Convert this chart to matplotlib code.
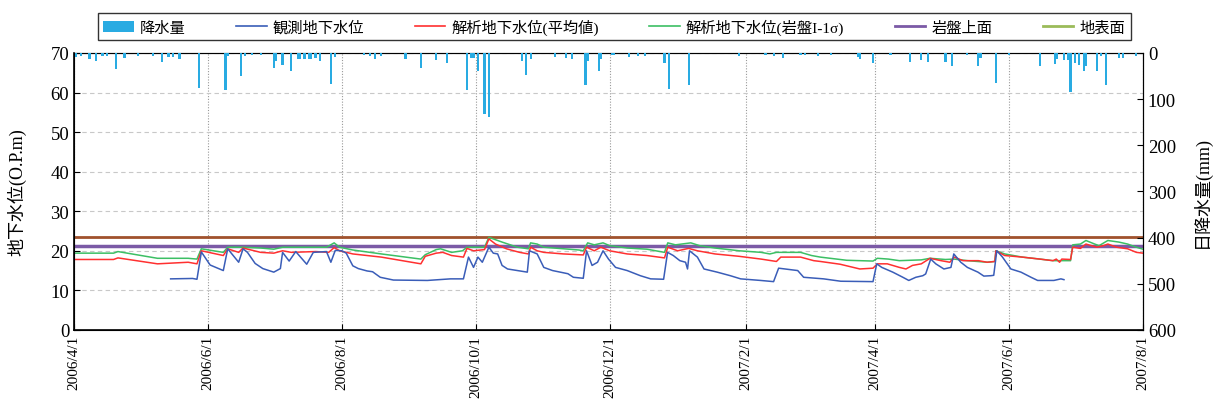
import datetime as dt
import numpy as np
import matplotlib
matplotlib.use('Agg')
import matplotlib.pyplot as plt
import matplotlib.dates as mdates
from matplotlib.lines import Line2D
from matplotlib.patches import Patch

plt.rcParams['font.family'] = ['Liberation Serif', 'Noto Sans CJK JP']

# ---------------- data (day offsets from 2006/4/1) ----------------
start_date = '2006/4/1'
tick_labels = ['2006/4/1', '2006/6/1', '2006/8/1', '2006/10/1', '2006/12/1',
               '2007/2/1', '2007/4/1', '2007/6/1', '2007/8/1']

rain_day = [1, 3, 7, 10, 13, 15, 19, 23, 29, 36,
            40, 43, 45, 48, 57, 69, 70, 76, 78, 81,
            85, 91, 92, 95, 99, 102, 103, 105, 107, 108,
            110, 112, 117, 119, 132, 135, 137, 140, 151, 158,
            165, 170, 179, 181, 182, 184, 187, 189, 204, 206,
            208, 219, 224, 227, 233, 234, 239, 240, 245, 246,
            253, 257, 260, 269, 271, 280, 303, 315, 319, 323,
            331, 333, 339, 345, 357, 358, 364, 372, 381, 386,
            389, 397, 400, 407, 412, 413, 420, 426, 440, 447,
            448, 451, 453, 454, 456, 458, 460, 461, 466, 468,
            470, 476, 478, 484]
rain_mm = [9, 6, 13, 18, 6, 6, 35, 11, 6, 6,
           20, 9, 9, 13, 76, 81, 7, 49, 6, 4,
           4, 32, 18, 27, 40, 13, 13, 14, 13, 14,
           10, 17, 68, 8, 4, 6, 13, 6, 14, 32,
           16, 22, 81, 11, 11, 40, 133, 138, 17, 47,
           14, 9, 11, 13, 70, 18, 40, 14, 4, 4,
           9, 6, 6, 22, 77, 69, 6, 4, 6, 11,
           4, 4, 6, 4, 9, 13, 22, 4, 20, 15,
           20, 20, 29, 4, 29, 11, 66, 4, 28, 23,
           13, 15, 15, 84, 22, 26, 38, 29, 40, 6,
           69, 11, 11, 7]

obs_day = [44, 54, 56, 58, 62, 68, 70, 75, 77, 79,
           82.5, 86, 91, 94, 95, 98, 101, 106, 109, 115,
           117, 119, 122, 124, 127, 129.5, 133.5, 136, 139.5, 145.5,
           161, 171.5, 177.4, 179.7, 182, 184, 186, 189, 191, 193,
           195, 197.5, 202, 206.5, 207.5, 211, 214, 218, 225, 227.5,
           232, 233.5, 236, 238.5, 241, 243.5, 246.7, 252, 258, 262.7,
           268.6, 270.4, 273, 276, 278.6, 279.5, 280.4, 284, 287, 293,
           299, 303.7, 312.8, 318.7, 321, 329.7, 332.4, 341.5, 349.3, 364,
           365.7, 368, 373, 377.6, 380.3, 383.5, 386.7, 388, 390.3, 392.6,
           396.3, 399.5, 400.8, 404, 407, 411.8, 414.5, 417.7, 419, 420.4,
           423, 426.8, 431.4, 436, 439, 446.4, 449.6, 451]
obs_level = [12.9, 13.0, 12.8, 19.7, 16.4, 15.0, 20.5, 17.1, 20.5, 19.6,
             16.8, 15.5, 14.6, 15.5, 19.6, 17.4, 19.8, 16.6, 19.6, 19.8,
             17.1, 20.1, 20.0, 19.4, 16.2, 15.5, 14.9, 14.7, 13.3, 12.6,
             12.5, 12.9, 12.9, 18.4, 15.8, 18.4, 17.1, 20.9, 19.4, 19.2,
             16.3, 15.4, 15.0, 14.6, 20.0, 19.2, 15.8, 15.0, 14.2, 13.3,
             13.05, 20.0, 16.3, 17.1, 20.0, 17.9, 15.8, 15.0, 13.7, 12.9,
             12.8, 19.6, 18.8, 17.5, 17.1, 15.4, 20.0, 18.4, 15.4, 14.6,
             13.7, 12.9, 12.5, 12.2, 15.6, 15.0, 13.3, 12.9, 12.3, 12.2,
             16.7, 15.8, 14.6, 13.3, 12.5, 13.3, 13.7, 14.15, 17.9, 16.7,
             15.4, 15.8, 19.2, 17.1, 15.8, 14.6, 13.6, 13.7, 13.8, 20.0,
             18.4, 15.4, 14.6, 13.3, 12.5, 12.5, 12.9, 12.7]

mean_day = [0, 18, 20, 38, 52, 56, 58, 68, 70, 75,
            77, 85, 91, 95, 99, 110, 116, 118.5, 121, 127,
            140, 158, 160, 165, 168, 172, 177.4, 179, 182, 187, 189,
            192, 197, 203, 207, 208, 211, 214, 223, 232, 233.5,
            237, 240, 244, 252, 261, 269, 270.5, 275, 280, 284,
            292, 303, 313, 320, 322, 331, 337, 340, 349, 358,
            364, 366, 370.5, 376, 379, 382, 386, 390, 395, 399,
            401, 405, 412, 416, 419.5, 420, 424, 432, 440, 446,
            447.5, 449, 450, 454, 455, 458.5, 461, 466, 469, 471,
            475, 480, 484, 487]
mean_level = [17.8, 17.8, 18.2, 16.7, 17.1, 16.7, 20.0, 18.8, 20.5, 19.6,
              20.7, 19.6, 19.4, 20.0, 19.6, 19.8, 19.6, 20.8, 20.0, 19.2,
              18.4, 16.7, 18.6, 19.4, 19.6, 18.8, 18.4, 20.6, 20.0, 20.3, 23.0,
              21.7, 20.5, 19.6, 19.2, 20.9, 20.0, 19.6, 19.2, 18.95, 20.9,
              20.0, 20.9, 20.0, 19.2, 18.8, 18.2, 20.9, 20.0, 20.6, 20.0,
              19.2, 18.6, 17.9, 17.3, 18.4, 18.4, 17.5, 17.3, 16.6, 15.4,
              15.6, 16.7, 16.7, 15.8, 15.4, 16.3, 16.7, 18.1, 17.5, 17.1,
              18.4, 17.5, 17.5, 17.1, 17.3, 20.0, 18.8, 18.4, 17.9, 17.5,
              17.9, 17.1, 17.9, 17.8, 20.9, 20.6, 21.7, 20.9, 21.3, 21.7,
              20.9, 20.5, 19.6, 19.4]

sigma_day = [0, 18, 20, 38, 52, 56, 58, 68, 70, 77,
             85, 91, 95, 115, 118.5, 121, 127, 140, 158, 160, 165,
             167, 172, 177, 179, 187, 189, 195, 202, 207, 208,
             211, 214, 230, 232, 234, 237, 241, 244, 252, 261,
             269, 270.5, 274, 281, 285, 292, 303, 313, 317, 320,
             331, 336, 340, 352, 364, 366, 371, 376, 386, 390,
             397, 401, 407, 416, 419.5, 420, 424, 432, 440, 446,
             454, 455, 458.5, 461, 465, 467, 471, 476, 480, 484, 487]
sigma_level = [19.4, 19.4, 19.8, 18.1, 18.1, 17.9, 20.5, 19.6, 20.9, 20.9,
               20.7, 20.4, 20.9, 20.9, 22.0, 20.9, 20.2, 19.2, 17.9, 19.0, 20.3,
               20.5, 19.6, 20.0, 20.9, 20.9, 23.4, 22.2, 20.9, 20.5, 22.0,
               21.7, 20.9, 20.2, 20.0, 22.0, 21.5, 22.0, 21.3, 20.7, 20.4,
               19.6, 22.0, 21.5, 22.0, 21.3, 20.7, 20.0, 19.6, 19.2, 19.6,
               19.6, 18.8, 18.4, 17.6, 17.4, 18.1, 17.9, 17.5, 17.7, 18.1,
               17.8, 17.9, 17.5, 17.1, 17.3, 20.0, 19.2, 18.4, 17.9, 17.5,
               17.5, 21.5, 21.7, 22.6, 21.7, 21.3, 22.6, 22.2, 21.7, 20.9, 20.4]

bedrock_level = 21.3
surface_level = 23.4

# ---------------- styling ----------------
rain_color = '#29ABE2'
obs_color = '#3A5DB8'
mean_color = '#FF3030'
sigma_color = '#3CBF64'
bedrock_color = '#7B5AA6'
surface_color = '#A0522D'
surface_legend_color = '#9BBB59'

base = mdates.date2num(dt.datetime.strptime(start_date, '%Y/%m/%d'))
tick_pos = [mdates.date2num(dt.datetime.strptime(s, '%Y/%m/%d')) for s in tick_labels]

def to_x(days):
    return base + np.asarray(days, dtype=float)

fig = plt.figure(figsize=(12.14, 4.06), dpi=100)
ax = fig.add_axes([0.061, 0.185, 0.8805, 0.682])

ax.axhline(surface_level, color=surface_color, lw=2.0, zorder=2)
ax.axhline(bedrock_level, color=bedrock_color, lw=2.5, zorder=2)
ax.plot(to_x(sigma_day), sigma_level, color=sigma_color, lw=1.1, zorder=3)
ax.plot(to_x(mean_day), mean_level, color=mean_color, lw=1.1, zorder=4)
ax.plot(to_x(obs_day), obs_level, color=obs_color, lw=1.1, zorder=5)

ax.set_xlim(tick_pos[0], tick_pos[-1])
ax.set_ylim(0, 70)
ax.set_yticks(range(0, 71, 10))
ax.set_xticks(tick_pos)
ax.set_xticklabels(tick_labels, rotation=90, fontsize=11)
ax.tick_params(axis='y', labelsize=13.5, direction='in', length=4)
ax.tick_params(axis='x', direction='in', length=4)
ax.yaxis.grid(True, linestyle=(0, (4, 3)), color='#c8c8c8', lw=0.8)
ax.xaxis.grid(True, linestyle=(0, (1, 1.5)), color='#999999', lw=0.8)
ax.set_axisbelow(True)
ax.set_ylabel('地下水位(O.P.m)', fontsize=13)
ax.yaxis.set_label_coords(-0.045, 0.5)
for s in ['left', 'bottom']:
    ax.spines[s].set_linewidth(1.2)
ax.spines['top'].set_color('#555555')

ax2 = ax.twinx()
ax2.bar(to_x(rain_day), rain_mm, width=1.0, color=rain_color, align='center', zorder=3)
ax2.set_ylim(600, 0)
ax2.set_yticks(range(0, 601, 100))
ax2.tick_params(axis='y', labelsize=13.5, direction='in', length=4)
ax2.set_ylabel('日降水量(mm)', fontsize=13)
ax2.yaxis.set_label_coords(1.046, 0.5)
ax2.set_xlim(tick_pos[0], tick_pos[-1])

handles = [
    Patch(facecolor=rain_color, edgecolor='none'),
    Line2D([], [], color=obs_color, lw=1.2),
    Line2D([], [], color=mean_color, lw=1.2),
    Line2D([], [], color=sigma_color, lw=1.2),
    Line2D([], [], color=bedrock_color, lw=2.0),
    Line2D([], [], color=surface_legend_color, lw=2.0),
]
labels = ['降水量', '観測地下水位', '解析地下水位(平均値)', '解析地下水位(岩盤I-1σ)', '岩盤上面', '地表面']
leg = fig.legend(handles, labels, loc='center', bbox_to_anchor=(0.506, 0.932), ncol=6,
                 fontsize=11, frameon=True, fancybox=False, edgecolor='black',
                 handlelength=2.0, handletextpad=0.4, columnspacing=3.3,
                 borderpad=0.35)
leg.get_frame().set_linewidth(1.0)

fig.savefig('out.png', dpi=100)
